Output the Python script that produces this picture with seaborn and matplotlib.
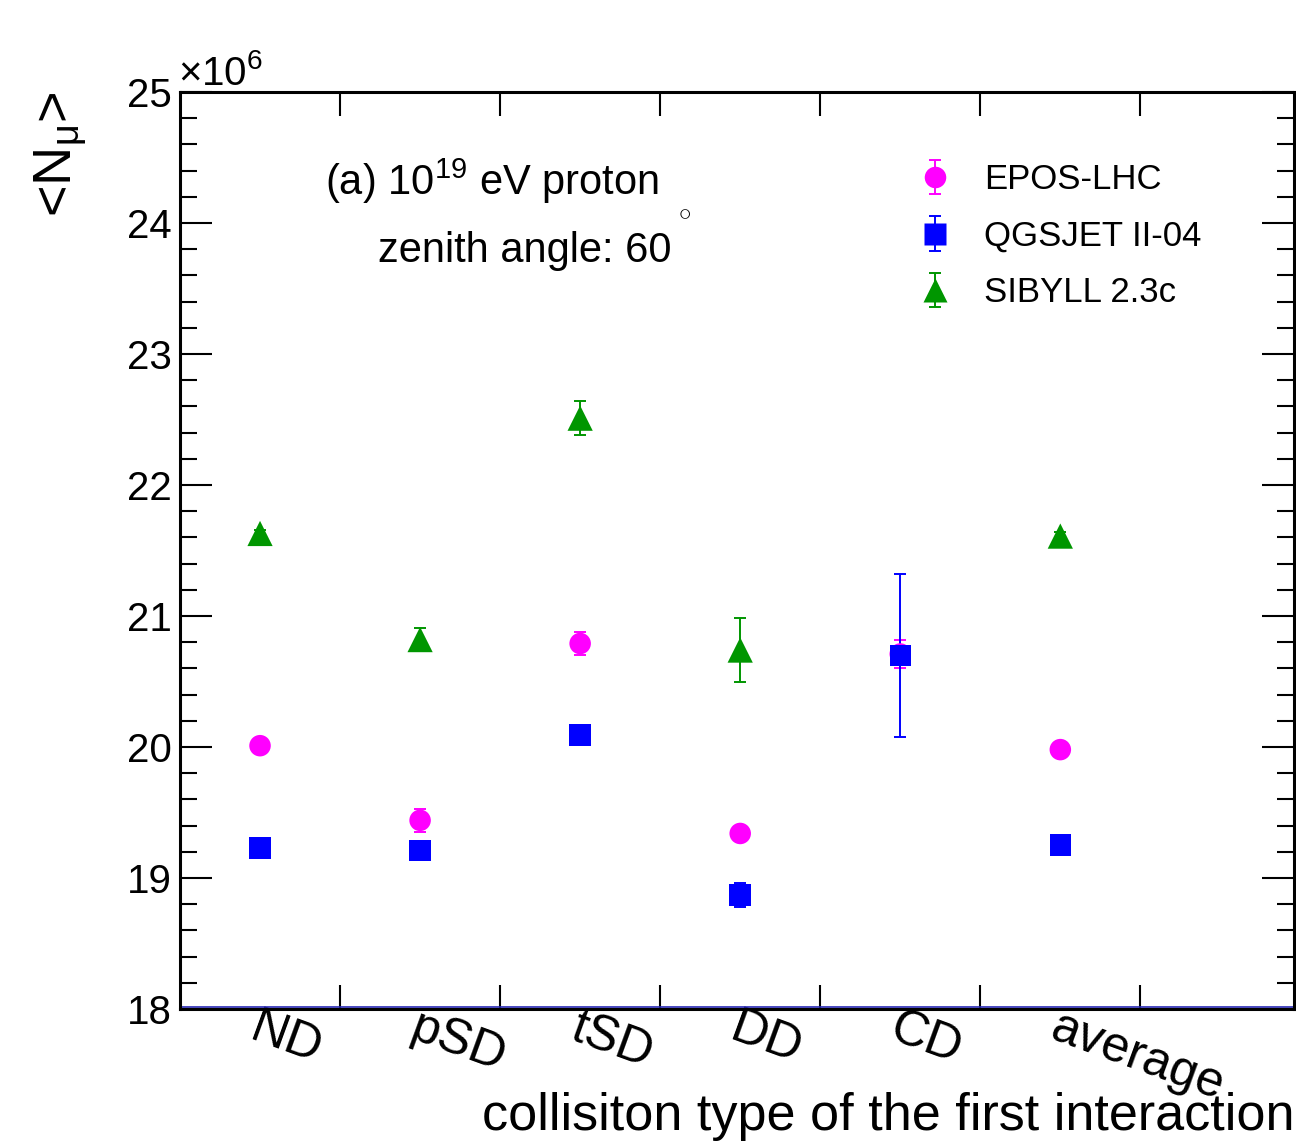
import numpy as np
import pandas as pd
import matplotlib
matplotlib.use('Agg')
import matplotlib.pyplot as plt
from matplotlib.ticker import MultipleLocator, NullFormatter
import seaborn as sns

# categories of the first interaction
categories = ['ND', 'pSD', 'tSD', 'DD', 'CD', 'average']
models = ['EPOS-LHC', 'QGSJET II-04', 'SIBYLL 2.3c']

# <N_mu> in units of 1e6
epos_mean = [20.01, 19.44, 20.79, 19.34, 20.71, 19.98]
epos_err = [0.03, 0.09, 0.09, 0.03, 0.11, 0.03]
qgs_mean = [19.23, 19.21, 20.09, 18.87, 20.70, 19.25]
qgs_err = [0.03, 0.03, 0.05, 0.09, 0.62, 0.03]
sib_mean = [21.63, 20.82, 22.51, 20.74, np.nan, 21.61]
sib_err = [0.03, 0.09, 0.13, 0.245, np.nan, 0.03]

palette = {'EPOS-LHC': '#ff00ff', 'QGSJET II-04': '#0000ff', 'SIBYLL 2.3c': '#009600'}
marker_map = {'EPOS-LHC': 'o', 'QGSJET II-04': 's', 'SIBYLL 2.3c': '^'}
size_map = {'EPOS-LHC': 240, 'QGSJET II-04': 240, 'SIBYLL 2.3c': 330}

rows = []
for m, means, errs in zip(models, [epos_mean, qgs_mean, sib_mean], [epos_err, qgs_err, sib_err]):
    for i, (c, v, e) in enumerate(zip(categories, means, errs)):
        rows.append({'model': m, 'category': c, 'xpos': i + 0.5, 'value': v, 'err': e})
df = pd.DataFrame(rows).dropna()

sns.set_theme(style='ticks')
plt.rcParams['font.family'] = ['Liberation Sans', 'DejaVu Sans']
plt.rcParams['mathtext.fontset'] = 'custom'
plt.rcParams['mathtext.rm'] = 'Liberation Sans'
plt.rcParams['mathtext.it'] = 'Liberation Sans:italic'
plt.rcParams['mathtext.bf'] = 'Liberation Sans:bold'
for key in ['text.color', 'axes.labelcolor', 'xtick.color', 'ytick.color', 'axes.edgecolor']:
    plt.rcParams[key] = 'black'

fig = plt.figure(figsize=(12.96, 11.43), dpi=100)
ax = fig.add_axes([180 / 1296, 1 - 1009 / 1143, (1294 - 180) / 1296, (1009 - 92) / 1143])

# error bars first, markers on top
for m in models:
    sub = df[df.model == m]
    ax.errorbar(sub.xpos, sub.value, yerr=sub.err, fmt='none', ecolor=palette[m],
                elinewidth=1.4, capsize=4, capthick=1.4, zorder=2)

sns.scatterplot(data=df, x='xpos', y='value', hue='model', style='model', size='model',
                palette=palette, markers=marker_map, sizes=size_map, edgecolor='none',
                legend=False, ax=ax, zorder=3)

ax.axhline(18.015, color='#2828b4', lw=1.2, zorder=1)

ax.set_xlim(0, 6.96)
ax.set_ylim(18, 25)

# axis ticks, ROOT style
ax.set_xticks(np.arange(1, len(categories) + 1))
ax.xaxis.set_major_formatter(NullFormatter())
ax.set_xticks(np.arange(len(categories)) + 0.5, minor=True)
ax.set_xticklabels(categories, minor=True, rotation=-20, ha='left', va='top',
                   rotation_mode='anchor', fontsize=36)
ax.yaxis.set_major_locator(MultipleLocator(1))
ax.yaxis.set_minor_locator(MultipleLocator(0.2))
ax.tick_params(axis='both', which='both', direction='in', top=True, right=True)
ax.tick_params(axis='y', which='major', length=23, width=1.5, labelsize=29, pad=6)
ax.tick_params(axis='y', which='minor', length=12, width=1.5)
ax.tick_params(axis='x', which='major', length=17, width=1.5)
ax.tick_params(axis='x', which='minor', length=0, pad=-3)

for sp in ax.spines.values():
    sp.set_linewidth(2.2)

ax.set_xlabel('collisiton type of the first interaction', fontsize=37.5, loc='right')
ax.xaxis.set_label_coords(1.0, -0.0905)
ax.set_ylabel('<N$_{\\mathrm{μ}}$>', fontsize=39, loc='top')
ax.yaxis.set_label_coords(-0.083, 1.0)

ax.text(-0.002, 1.008, '$\\times$10$^{6}$', transform=ax.transAxes, fontsize=29,
        ha='left', va='baseline')
ax.text(0.130, 0.888, '(a) 10$^{19}$ eV proton', transform=ax.transAxes, fontsize=30,
        ha='left', va='baseline')
ax.text(0.178, 0.815, 'zenith angle: 60', transform=ax.transAxes, fontsize=30,
        ha='left', va='baseline')
ax.text(0.453, 0.869, '$\\circ$', transform=ax.transAxes, fontsize=18,
        ha='center', va='center')

# legend with error-bar handles
handles = []
for m in models:
    h = ax.errorbar([np.nan], [np.nan], yerr=[0.1], fmt=marker_map[m], color=palette[m],
                    ms=15.5 if m != 'SIBYLL 2.3c' else 17.5, mec='none',
                    elinewidth=1.4, capsize=4, capthick=1.4, label=m)
    handles.append(h)
ax.legend(handles=handles, loc='upper left', bbox_to_anchor=(0.6625, 0.9225), frameon=False,
          fontsize=25, handlelength=1.0, handletextpad=0.9, labelspacing=0.68,
          borderpad=0, borderaxespad=0)

fig.savefig('out.png', dpi=100)
